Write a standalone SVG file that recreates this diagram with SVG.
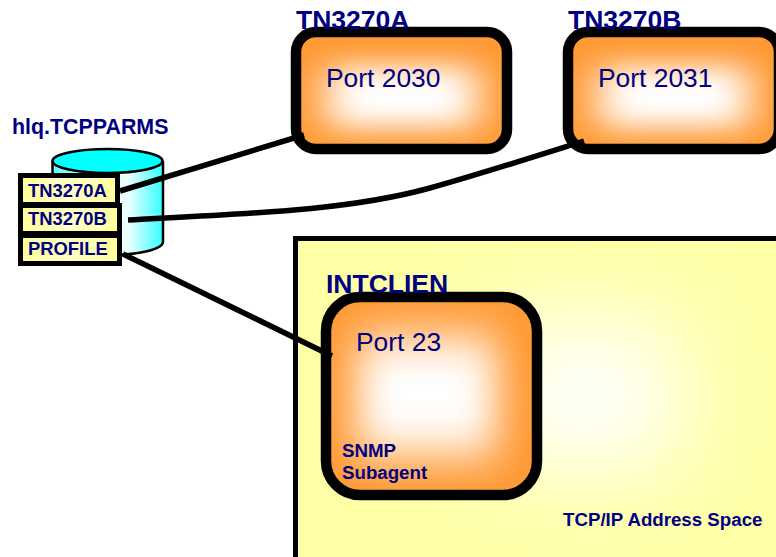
<svg xmlns="http://www.w3.org/2000/svg" width="776" height="557" viewBox="0 0 776 557">
<style>
text{font-family:"Liberation Sans",Arial,sans-serif;fill:#000080}
.port{font-size:26.400px}
.title{font-size:26.500px;font-weight:bold}
.small{font-size:18.700px;font-weight:bold}
.lab{font-size:18.400px;font-weight:bold}
.fillo{fill:#ff9933}
.node{fill:none;stroke:#000;stroke-width:10.500}
.core{fill:#fff}
.file{fill:url(#yf);stroke:#000;stroke-width:5}
.conn{fill:none;stroke:#000;stroke-width:5.500}
</style>
<defs>
<filter id="b1" x="-50%" y="-80%" width="200%" height="260%"><feGaussianBlur stdDeviation="20 14"/></filter>
<filter id="b2" x="-50%" y="-50%" width="200%" height="200%"><feGaussianBlur stdDeviation="20 24"/></filter>
<filter id="b3" x="-100%" y="-100%" width="300%" height="300%"><feGaussianBlur stdDeviation="48"/></filter>
<clipPath id="ca"><rect x="296" y="32" width="211" height="117" rx="20"/></clipPath>
<clipPath id="cb"><rect x="568" y="32" width="211" height="117" rx="20"/></clipPath>
<clipPath id="cc"><rect x="326" y="297" width="211" height="198" rx="34"/></clipPath>
<clipPath id="cy"><rect x="298" y="241" width="478" height="316"/></clipPath>
<linearGradient id="yf" x1="0" x2="1" y1="0" y2="0">
<stop offset="0" stop-color="#ffff99"/><stop offset="0.5" stop-color="#ffffc4"/><stop offset="1" stop-color="#ffff99"/>
</linearGradient>
<linearGradient id="cyl" x1="0" x2="1" y1="0" y2="0">
<stop offset="0" stop-color="#66ffff"/><stop offset="0.68" stop-color="#f0ffff"/><stop offset="1" stop-color="#33ffff"/>
</linearGradient>
</defs>
<g id="address-space">
<rect x="295.500" y="238.500" width="490" height="330" fill="#ffffa6" stroke="#000" stroke-width="5"/>
<g clip-path="url(#cy)"><rect x="490" y="320" width="190" height="150" fill="#ffffff" filter="url(#b3)"/></g>
</g>
<g id="tn3270a">
<rect x="296" y="32" width="211" height="117" rx="20" class="fillo"/>
<g clip-path="url(#ca)"><rect x="327" y="66" width="150" height="62" class="core" filter="url(#b1)"/></g>
<rect x="296" y="32" width="211" height="117" rx="20" class="node"/>
<text x="296" y="29" class="title">TN3270A</text>
<text x="326" y="87" class="port">Port 2030</text>
</g>
<g id="tn3270b">
<rect x="568" y="32" width="211" height="117" rx="20" class="fillo"/>
<g clip-path="url(#cb)"><rect x="599" y="66" width="150" height="62" class="core" filter="url(#b1)"/></g>
<rect x="568" y="32" width="211" height="117" rx="20" class="node"/>
<text x="568" y="29" class="title">TN3270B</text>
<text x="598" y="87" class="port">Port 2031</text>
</g>
<g id="intclien-port">
<rect x="326" y="297" width="211" height="198" rx="34" class="fillo"/>
<g clip-path="url(#cc)"><rect x="357" y="337" width="140" height="118" class="core" filter="url(#b2)"/></g>
<rect x="326" y="297" width="211" height="198" rx="34" class="node"/>
<text x="326" y="293" class="title">INTCLIEN</text>
<text x="356" y="351" class="port">Port 23</text>
<text x="342" y="457" class="small">SNMP</text>
<text x="342" y="479" class="small">Subagent</text>
</g>
<text id="tcpip-label" x="563" y="526" class="small">TCP/IP Address Space</text>
<g id="tcpparms">
<text x="12" y="134" class="small" style="font-size:21.400px">hlq.TCPPARMS</text>
<path d="M52.500 161V242A55 13 0 0 0 163 242V161" fill="url(#cyl)" stroke="#000" stroke-width="2.500"/>
<ellipse cx="107.500" cy="161" rx="55" ry="12" fill="#00ffff" stroke="#000" stroke-width="2.500"/>
<g id="file-a"><rect x="20.500" y="175.500" width="97" height="29" class="file"/><text x="28" y="197" class="lab">TN3270A</text></g>
<g id="file-b"><rect x="20.500" y="205.500" width="99" height="28" class="file"/><text x="28" y="225" class="lab">TN3270B</text></g>
<g id="file-p"><rect x="20.500" y="235.500" width="99" height="28" class="file"/><text x="28" y="255" class="lab">PROFILE</text></g>
</g>
<g id="connectors">
<path class="conn" d="M120 191L304 135"/>
<path class="conn" d="M128 220C260 213 350 210 430 188C480 174 530 158 584 141"/>
<path class="conn" d="M123 254L332 356"/>
</g>
</svg>
